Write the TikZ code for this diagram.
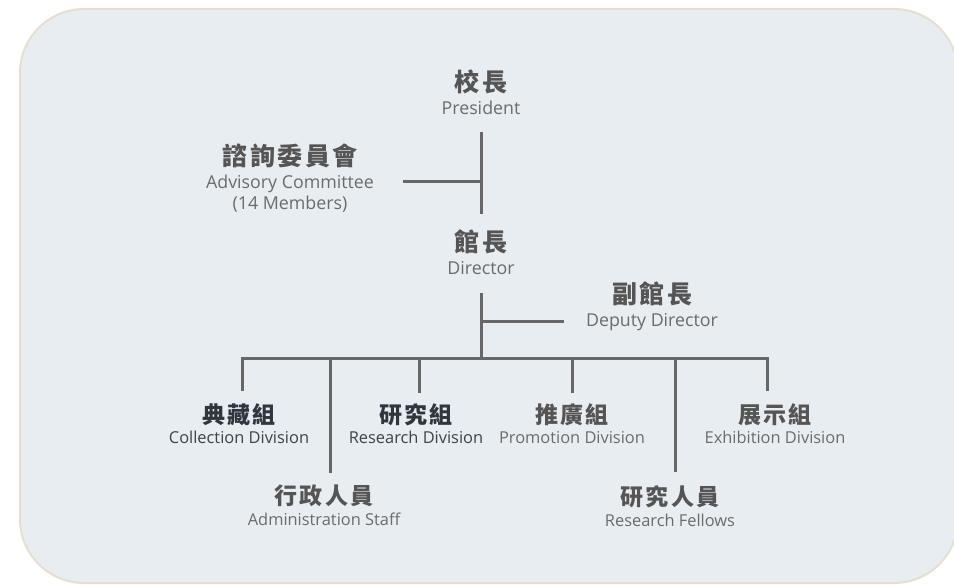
\documentclass[tikz,border=0pt]{standalone}
\usepackage{fontspec}
\setmainfont{Open Sans}
\newfontfamily\zhfont{Noto Sans CJK TC}
\definecolor{bgc}{HTML}{E8EDF1}
\definecolor{bdc}{HTML}{E6DFD1}
\definecolor{lnc}{HTML}{676767}
\definecolor{zhc}{HTML}{555555}
\definecolor{enc}{HTML}{6B6B6B}
\definecolor{dkc}{HTML}{30353F}
\definecolor{dke}{HTML}{3D424C}
\newcommand\topzh[1]{{\zhfont\bfseries\fontsize{25}{23}\selectfont\addfontfeature{LetterSpace=10}#1}}
\newcommand\botzh[1]{{\zhfont\bfseries\fontsize{23}{20.5}\selectfont\addfontfeature{LetterSpace=9}#1}}
\begin{document}
\begin{tikzpicture}[x=1pt,y=-1pt,
  ln/.style={draw=lnc, line width=3pt},
  toplab/.style={align=center, inner sep=0pt, anchor=base, text=zhc, font=\fontsize{17.8}{23}\selectfont},
  botlab/.style={align=center, inner sep=0pt, anchor=base, text=zhc, font=\fontsize{16.4}{20.5}\selectfont}]
\useasboundingbox (0,0) rectangle (954,585);
\draw[fill=bgc, draw=bdc, line width=2pt, rounded corners=64pt] (20,9) rectangle (958,583);

% labels
\node[toplab] (pres) at (481,115) {\topzh{校長}\\\textcolor{enc}{President}};
\node[toplab] (adv) at (290,210) {\topzh{諮詢委員會}\\\textcolor{enc}{Advisory Committee}\\[-2pt]\textcolor{enc}{(14 Members)}};
\node[toplab] (dir) at (481,275) {\topzh{館長}\\\textcolor{enc}{Director}};
\node[toplab] (dep) at (652,327) {\topzh{副館長}\\\textcolor{enc}{Deputy Director}};

\node[botlab, text=dkc] (col) at (239,444) {\botzh{典藏組}\\\textcolor{dke}{Collection Division}};
\node[botlab, text=dkc] (res) at (416,444) {\botzh{研究組}\\\textcolor{dke}{Research Division}};
\node[botlab] (pro) at (572,444) {\botzh{推廣組}\\\textcolor{enc}{Promotion Division}};
\node[botlab] (exh) at (775,444) {\botzh{展示組}\\\textcolor{enc}{Exhibition Division}};
\node[botlab] (adm) at (324,525) {\botzh{行政人員}\\\textcolor{enc}{Administration Staff}};
\node[botlab] (fel) at (670,526) {\botzh{研究人員}\\\textcolor{enc}{Research Fellows}};

% junction coordinates
\coordinate (advj) at (481,182);
\coordinate (advend) at (403,182);
\coordinate (depj) at (481,322);
\coordinate (depend) at (564,322);
\coordinate (bus) at (481,359);
\coordinate (dcol) at (242,391);
\coordinate (dres) at (419,393);
\coordinate (dpro) at (572,393);
\coordinate (dexh) at (767,391);
\coordinate (dadm) at (330,473);
\coordinate (dfel) at (675,472);

% connectors
\draw[ln] (pres.south |- 0,132) -- (dir.north |- 0,214);
\draw[ln] (advend) -- (advj);
\draw[ln] (dir.south |- 0,293) -- (bus);
\draw[ln] (depj) -- (depend);
\draw[ln] (dcol) -- (dcol |- bus) -- (dexh |- bus) -- (dexh);
\draw[ln] (dres |- bus) -- (dres);
\draw[ln] (dpro |- bus) -- (dpro);
\draw[ln] (dadm |- bus) -- (dadm);
\draw[ln] (dfel |- bus) -- (dfel);
\end{tikzpicture}
\end{document}
